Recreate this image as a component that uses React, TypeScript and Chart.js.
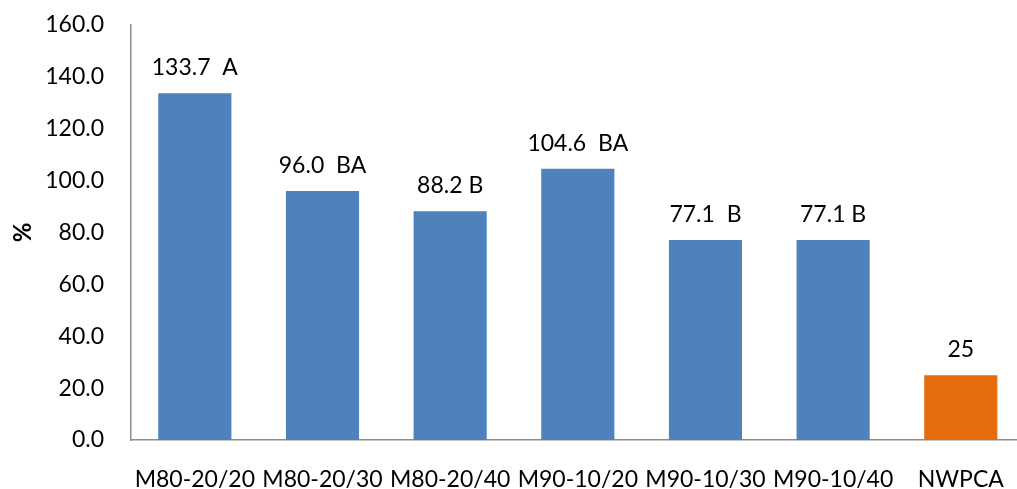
import React, { useEffect, useRef } from "react";
import { Chart, registerables } from "chart.js";

Chart.register(...registerables);

const categories = ["M80-20/20", "M80-20/30", "M80-20/40", "M90-10/20", "M90-10/30", "M90-10/40", "NWPCA"];
const values = [133.7, 96.0, 88.2, 104.6, 77.1, 77.1, 25];
const valueLabels = ["133.7  A", "96.0  BA", "88.2 B", "104.6  BA", "77.1  B", "77.1 B", "25"];
const barColors = ["#4F81BD", "#4F81BD", "#4F81BD", "#4F81BD", "#4F81BD", "#4F81BD", "#E46C0A"];
const yTicks = { min: 0, max: 160, step: 20 };
const yTitle = "%";

const FONT = "Lato, 'Open Sans', sans-serif";
const FONT_SIZE = 23;

const barLabelPlugin = {
  id: "barLabels",
  afterDatasetsDraw(chart: any) {
    const ctx = chart.ctx;
    const meta = chart.getDatasetMeta(0);
    ctx.save();
    ctx.font = `${FONT_SIZE}px ${FONT}`;
    ctx.fillStyle = "#000";
    ctx.textAlign = "center";
    ctx.textBaseline = "alphabetic";
    meta.data.forEach((bar: any, i: number) => {
      ctx.fillText(valueLabels[i], bar.x, bar.y - 18);
    });
    ctx.restore();
  },
};

export default function App() {
  const canvasRef = useRef<HTMLCanvasElement | null>(null);

  useEffect(() => {
    if (!canvasRef.current) return;
    const chart = new Chart(canvasRef.current, {
      type: "bar",
      data: {
        labels: categories,
        datasets: [
          {
            data: values,
            backgroundColor: barColors,
            borderWidth: 0,
            barPercentage: 0.573,
            categoryPercentage: 1,
          },
        ],
      },
      options: {
        animation: false,
        responsive: false,
        maintainAspectRatio: false,
        layout: { padding: { top: 25, right: 2, left: 0, bottom: 0 } },
        plugins: {
          legend: { display: false },
          tooltip: { enabled: false },
        },
        scales: {
          x: {
            grid: { display: false, drawTicks: false },
            border: { display: true, color: "#8c8c8c", width: 1.5 },
            ticks: {
              color: "#000",
              font: { family: FONT, size: FONT_SIZE },
              padding: 26,
              autoSkip: false,
              maxRotation: 0,
              minRotation: 0,
            },
            afterFit: (scale: any) => {
              scale.height = 49;
            },
          },
          y: {
            min: yTicks.min,
            max: yTicks.max,
            grid: { display: false, drawTicks: false },
            border: { display: true, color: "#8c8c8c", width: 1.5 },
            ticks: {
              stepSize: yTicks.step,
              color: "#000",
              font: { family: FONT, size: FONT_SIZE },
              padding: 27,
              callback: (v: any) => Number(v).toFixed(1),
            },
            title: {
              display: true,
              text: yTitle,
              color: "#000",
              font: { family: FONT, size: 24, weight: "bold" },
              padding: { top: 9, bottom: 0 },
            },
            afterFit: (scale: any) => {
              scale.width = 131;
              scale.paddingTop = 0;
              scale.paddingBottom = 0;
            },
          },
        },
      },
      plugins: [barLabelPlugin],
    });
    return () => chart.destroy();
  }, []);

  return (
    <div style={{ position: "fixed", left: 0, top: 0, width: 1017, height: 489, overflow: "hidden", background: "#fff" }}>
      <canvas ref={canvasRef} width={1030} height={489} style={{ width: 1030, height: 489, display: "block" }} />
    </div>
  );
}
